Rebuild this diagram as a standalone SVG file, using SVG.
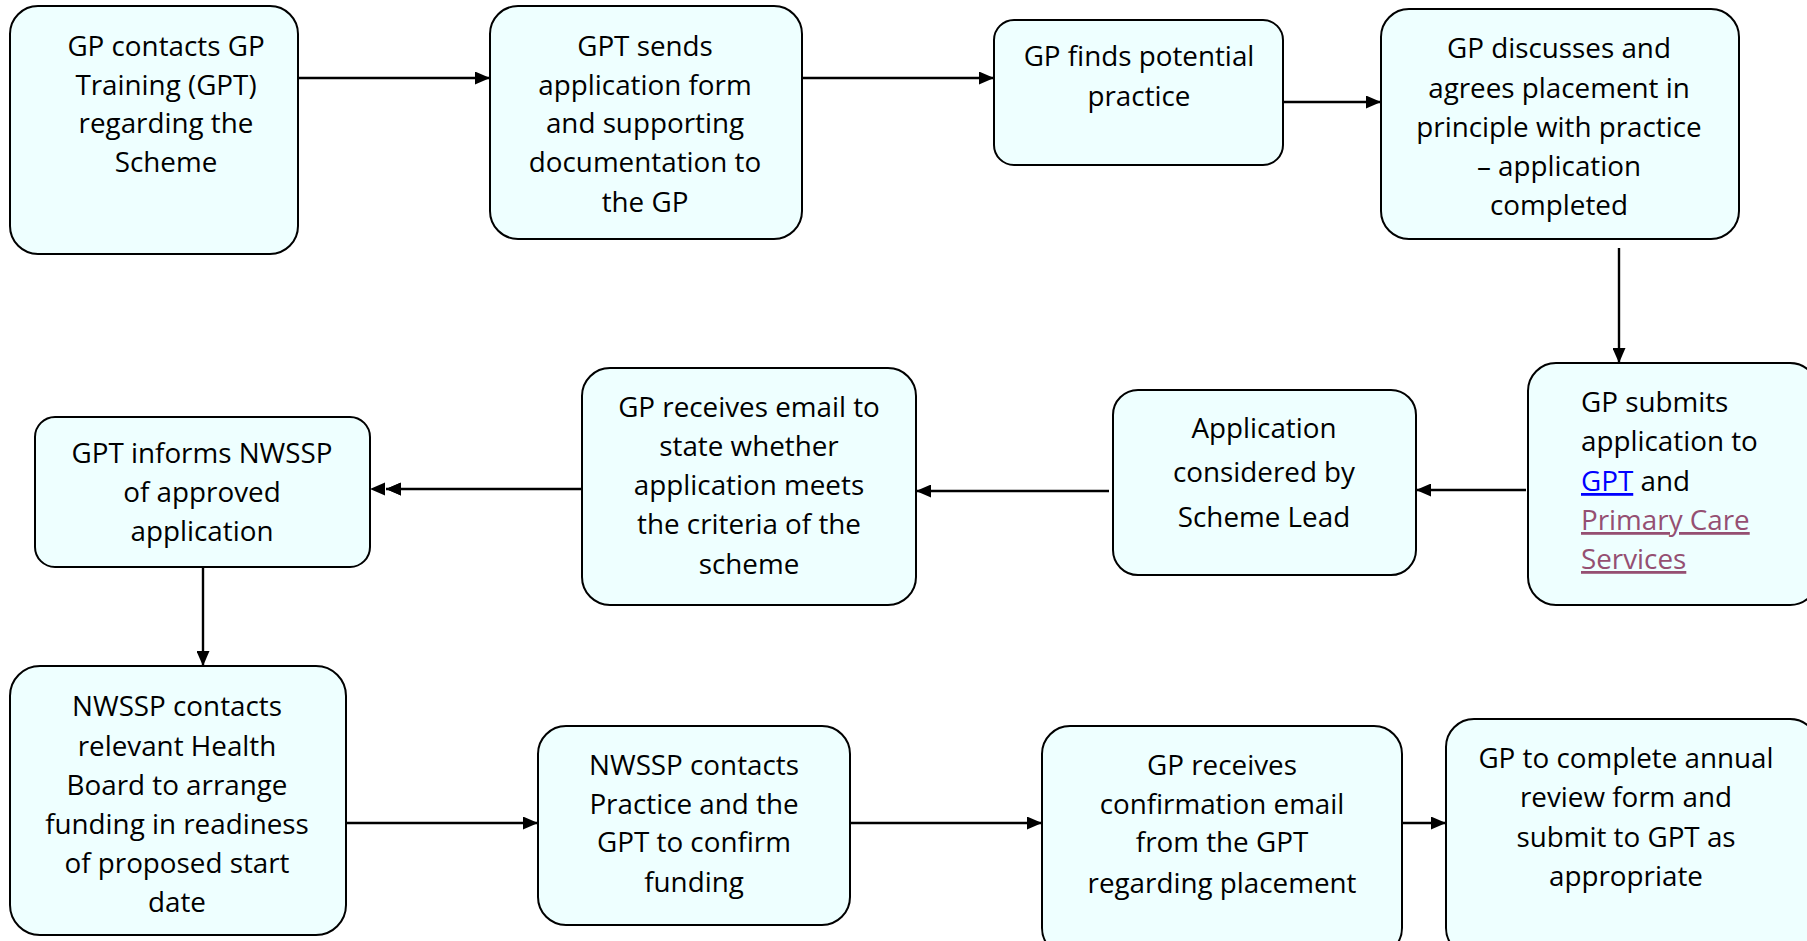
<svg xmlns="http://www.w3.org/2000/svg" width="1807" height="941" viewBox="0 0 1807 941">
<style>
.box{fill:#EEFFFF;stroke:#000;stroke-width:2}
.t{font-family:"Open Sans","Liberation Sans",sans-serif;font-size:27.8px;fill:#000;text-anchor:middle}
.l{text-anchor:start}
.c{stroke:#000;stroke-width:2.4;fill:none}
.lnk1{fill:#0000FF;text-decoration:underline}
.lnk2{fill:#954F72;text-decoration:underline}
</style>
<defs>
<marker id="ah" viewBox="0 0 15 13" refX="15" refY="6.5" markerWidth="15" markerHeight="13" markerUnits="userSpaceOnUse" orient="auto">
<path d="M0,0 L15,6.5 L0,13 z" fill="#000"/>
</marker>
</defs>
<rect width="1807" height="941" fill="#fff"/>
<g id="connectors">
<line class="c" x1="298" y1="78" x2="490" y2="78" marker-end="url(#ah)"/>
<line class="c" x1="802" y1="78" x2="994" y2="78" marker-end="url(#ah)"/>
<line class="c" x1="1283" y1="102" x2="1381" y2="102" marker-end="url(#ah)"/>
<line class="c" x1="1619" y1="248" x2="1619" y2="363" marker-end="url(#ah)"/>
<line class="c" x1="1526" y1="490" x2="1416" y2="490" marker-end="url(#ah)"/>
<line class="c" x1="1109" y1="491" x2="916" y2="491" marker-end="url(#ah)"/>
<line class="c" x1="582" y1="489" x2="386" y2="489" marker-end="url(#ah)"/>
<path d="M401,482.5 L386,489 L401,495.5 z" fill="#000"/>
<path d="M385,482.5 L370,489 L385,495.5 z" fill="#000"/>
<line class="c" x1="203" y1="567" x2="203" y2="666" marker-end="url(#ah)"/>
<line class="c" x1="346" y1="823" x2="538" y2="823" marker-end="url(#ah)"/>
<line class="c" x1="850" y1="823" x2="1042" y2="823" marker-end="url(#ah)"/>
<line class="c" x1="1402" y1="823" x2="1446" y2="823" marker-end="url(#ah)"/>
</g>
<g id="n1">
<rect class="box" x="10" y="6" width="288" height="248" rx="28"/>
<text class="t"><tspan x="166" y="56">GP contacts GP</tspan><tspan x="166" y="95">Training (GPT)</tspan><tspan x="166" y="133">regarding the</tspan><tspan x="166" y="172">Scheme</tspan></text>
</g>
<g id="n2">
<rect class="box" x="490" y="6" width="312" height="233" rx="28"/>
<text class="t"><tspan x="645" y="56">GPT sends</tspan><tspan x="645" y="95">application form</tspan><tspan x="645" y="133">and supporting</tspan><tspan x="645" y="172">documentation to</tspan><tspan x="645" y="212">the GP</tspan></text>
</g>
<g id="n3">
<rect class="box" x="994" y="20" width="289" height="145" rx="20"/>
<text class="t"><tspan x="1139" y="66">GP finds potential</tspan><tspan x="1139" y="106">practice</tspan></text>
</g>
<g id="n4">
<rect class="box" x="1381" y="9" width="358" height="230" rx="28"/>
<text class="t"><tspan x="1559" y="58">GP discusses and</tspan><tspan x="1559" y="98">agrees placement in</tspan><tspan x="1559" y="137">principle with practice</tspan><tspan x="1559" y="176">– application</tspan><tspan x="1559" y="215">completed</tspan></text>
</g>
<g id="n5">
<rect class="box" x="1528" y="363" width="290" height="242" rx="28"/>
<text class="t l"><tspan x="1581" y="412">GP submits</tspan><tspan x="1581" y="451">application to</tspan><tspan x="1581" y="491"><tspan class="lnk1">GPT</tspan> and</tspan><tspan x="1581" y="530" class="lnk2">Primary Care</tspan><tspan x="1581" y="569" class="lnk2">Services</tspan></text>
</g>
<g id="n6">
<rect class="box" x="1113" y="390" width="303" height="185" rx="25"/>
<text class="t"><tspan x="1264" y="438">Application</tspan><tspan x="1264" y="482">considered by</tspan><tspan x="1264" y="527">Scheme Lead</tspan></text>
</g>
<g id="n7">
<rect class="box" x="582" y="368" width="334" height="237" rx="28"/>
<text class="t"><tspan x="749" y="417">GP receives email to</tspan><tspan x="749" y="456">state whether</tspan><tspan x="749" y="495">application meets</tspan><tspan x="749" y="534">the criteria of the</tspan><tspan x="749" y="574">scheme</tspan></text>
</g>
<g id="n8">
<rect class="box" x="35" y="417" width="335" height="150" rx="20"/>
<text class="t"><tspan x="202" y="463">GPT informs NWSSP</tspan><tspan x="202" y="502">of approved</tspan><tspan x="202" y="541">application</tspan></text>
</g>
<g id="n9">
<rect class="box" x="10" y="666" width="336" height="269" rx="30"/>
<text class="t"><tspan x="177" y="716">NWSSP contacts</tspan><tspan x="177" y="756">relevant Health</tspan><tspan x="177" y="795">Board to arrange</tspan><tspan x="177" y="834">funding in readiness</tspan><tspan x="177" y="873">of proposed start</tspan><tspan x="177" y="912">date</tspan></text>
</g>
<g id="n10">
<rect class="box" x="538" y="726" width="312" height="199" rx="28"/>
<text class="t"><tspan x="694" y="775">NWSSP contacts</tspan><tspan x="694" y="814">Practice and the</tspan><tspan x="694" y="852">GPT to confirm</tspan><tspan x="694" y="892">funding</tspan></text>
</g>
<g id="n11">
<rect class="box" x="1042" y="726" width="360" height="230" rx="28"/>
<text class="t"><tspan x="1222" y="775">GP receives</tspan><tspan x="1222" y="814">confirmation email</tspan><tspan x="1222" y="852">from the GPT</tspan><tspan x="1222" y="893">regarding placement</tspan></text>
</g>
<g id="n12">
<rect class="box" x="1446" y="719" width="372" height="237" rx="28"/>
<text class="t"><tspan x="1626" y="768">GP to complete annual</tspan><tspan x="1626" y="807">review form and</tspan><tspan x="1626" y="847">submit to GPT as</tspan><tspan x="1626" y="886">appropriate</tspan></text>
</g>
</svg>
